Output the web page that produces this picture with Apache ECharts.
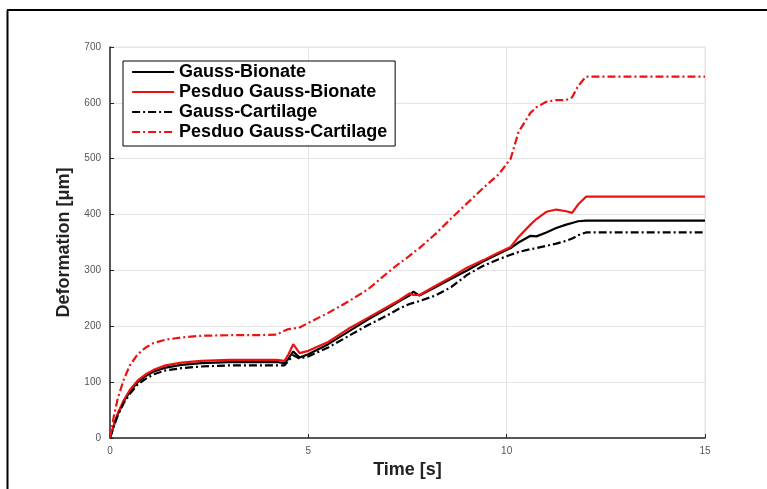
<!DOCTYPE html>
<html>
<head>
<meta charset="utf-8">
<script src="https://cdn.jsdelivr.net/npm/echarts@6/dist/echarts.min.js"></script>
<style>
  html, body { margin: 0; padding: 0; background: #ffffff; }
  #chart { width: 767px; height: 489px; }
</style>
</head>
<body>
<div id="chart"></div>
<script>
// Sample times [s] shared by all four curves
const timeS = [0, 0.1, 0.2, 0.35, 0.5, 0.7, 0.9, 1.1, 1.4, 1.8, 2.3, 3, 3.6, 4.2, 4.4, 4.5, 4.62, 4.78, 5, 5.5, 6, 6.5, 7, 7.3, 7.55, 7.65, 7.8, 8.2, 8.6, 9, 9.4, 9.8, 10.1, 10.3, 10.6, 10.75, 11, 11.25, 11.5, 11.65, 11.8, 12, 13, 15];

// Deformation [um] per model
const gaussBionate = [0, 23, 43, 66, 83, 100, 111, 119, 126, 131, 134, 136, 136, 136, 134, 142, 155, 144, 150, 168, 190, 212, 232, 245, 255, 262, 255, 270, 285, 300, 316, 330, 340, 350, 362, 361, 368, 376, 382, 385, 388, 389, 389, 389];
const pseudoGaussBionate = [0, 24, 45, 68, 86, 103, 114, 122, 130, 135, 138, 140, 140, 140, 138, 150, 168, 152, 156, 172, 195, 215, 235, 247, 259, 256, 256, 272, 288, 305, 318, 332, 342, 360, 382, 392, 405, 409, 406, 403, 418, 432, 432, 432];
const gaussCartilage = [0, 22, 41, 63, 79, 96, 106, 114, 121, 125, 128, 130, 130, 130, 130, 138, 148, 142, 146, 162, 182, 202, 220, 232, 240, 242, 245, 255, 270, 292, 308, 320, 328, 333, 338, 340, 344, 348, 353, 357, 363, 368, 368, 368];
const pseudoGaussCartilage = [0, 40, 72, 105, 130, 150, 162, 170, 176, 180, 183, 184, 184, 185, 192, 195, 196, 198, 206, 224, 244, 266, 296, 313, 326, 332, 340, 365, 393, 420, 447, 472, 500, 548, 582, 592, 602, 605, 605, 610, 630, 647, 647, 647];

const seriesNames = ['Gauss-Bionate', 'Pesduo Gauss-Bionate', 'Gauss-Cartilage', 'Pesduo Gauss-Cartilage'];
const xTicks = [0, 5, 10, 15];
const yTicks = [0, 100, 200, 300, 400, 500, 600, 700];

const pairs = vals => timeS.map((t, i) => [t, vals[i]]);
const dashDot = [8, 3, 2, 3];

const mkSeries = (name, vals, color, type) => ({
  name: name,
  type: 'line',
  data: pairs(vals),
  symbol: 'none',
  smooth: false,
  lineStyle: { color: color, width: 2.2, type: type },
  itemStyle: { color: color }
});

const chart = echarts.init(document.getElementById('chart'), null, { renderer: 'canvas' });
chart.setOption({
  animation: false,
  backgroundColor: '#ffffff',
  graphic: [
    { type: 'line', shape: { x1: 7.5, y1: 10, x2: 7.5, y2: 489 }, style: { stroke: '#000', lineWidth: 2 }, z: 100 },
    { type: 'line', shape: { x1: 7, y1: 10, x2: 767, y2: 10 }, style: { stroke: '#000', lineWidth: 2 }, z: 100 }
  ],
  grid: {
    left: 110, top: 47, width: 595, height: 391,
    show: true, borderColor: '#e2e2e2', borderWidth: 1
  },
  legend: {
    orient: 'vertical',
    left: 123, top: 61,
    data: seriesNames,
    itemWidth: 42, itemHeight: 18, itemGap: 2,
    padding: [2, 8, 5, 8],
    backgroundColor: '#ffffff',
    borderColor: '#000000', borderWidth: 1,
    itemStyle: { opacity: 0, borderWidth: 0 },
    lineStyle: { width: 2.2 },
    textStyle: { fontFamily: 'Liberation Sans, Arial, sans-serif', fontWeight: 'bold', fontSize: 18, color: '#000' }
  },
  xAxis: {
    type: 'value', min: 0, max: 15, interval: 5,
    name: 'Time [s]', nameLocation: 'middle', nameGap: 19,
    nameTextStyle: { fontFamily: 'Liberation Sans, Arial, sans-serif', fontWeight: 'bold', fontSize: 18, color: '#222' },
    axisLine: { show: true, lineStyle: { color: '#262626', width: 1.5 } },
    axisTick: { show: true, inside: true, length: 4, lineStyle: { color: '#262626' } },
    axisLabel: {
      margin: 8, fontSize: 10, color: '#555', fontFamily: 'Liberation Sans, Arial, sans-serif',
      formatter: v => (xTicks.indexOf(v) >= 0 ? String(v) : '')
    },
    splitLine: { show: true, lineStyle: { color: '#e4e4e4', width: 1 } }
  },
  yAxis: {
    type: 'value', min: 0, max: 700, interval: 100,
    name: 'Deformation [\u03bcm]', nameLocation: 'middle', nameGap: 30, nameRotate: 90,
    nameTextStyle: { fontFamily: 'Liberation Sans, Arial, sans-serif', fontWeight: 'bold', fontSize: 18, color: '#222' },
    axisLine: { show: true, lineStyle: { color: '#262626', width: 1.5 } },
    axisTick: { show: true, inside: true, length: 4, lineStyle: { color: '#262626' } },
    axisLabel: {
      margin: 9, fontSize: 10, color: '#555', fontFamily: 'Liberation Sans, Arial, sans-serif',
      formatter: v => (yTicks.indexOf(v) >= 0 ? String(v) : '')
    },
    splitLine: { show: true, lineStyle: { color: '#e4e4e4', width: 1 } }
  },
  series: [
    mkSeries(seriesNames[0], gaussBionate, '#000000', 'solid'),
    mkSeries(seriesNames[1], pseudoGaussBionate, '#ee1111', 'solid'),
    mkSeries(seriesNames[2], gaussCartilage, '#000000', dashDot),
    mkSeries(seriesNames[3], pseudoGaussCartilage, '#ee1111', dashDot)
  ]
});
</script>
</body>
</html>
